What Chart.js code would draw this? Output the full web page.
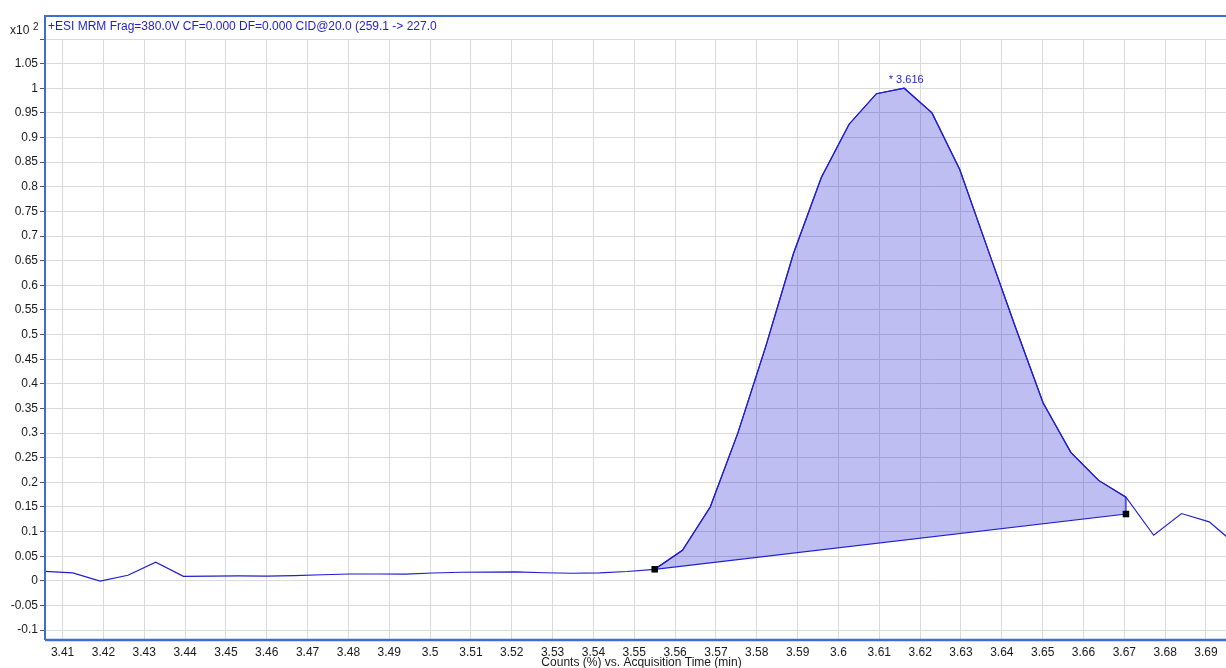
<!DOCTYPE html>
<html lang="en">
<head>
<meta charset="UTF-8" />
<title>MRM chromatogram</title>
<script src="https://cdn.jsdelivr.net/npm/chart.js"></script>
<style>
  body { margin: 0; background: #fff; }
  canvas { display: block; }
</style>
</head>
<body>
<canvas id="chrom" width="1226" height="668"></canvas>
<script>
// acquisition time (min) and counts (x10^2)
const times = [
  3.4057, 3.4125, 3.4192, 3.4260, 3.4328, 3.4396, 3.4464, 3.4532, 3.4600, 3.4668,
  3.4736, 3.4803, 3.4871, 3.4939, 3.5007, 3.5075, 3.5143, 3.5211, 3.5279, 3.5347,
  3.5415, 3.5482, 3.5550, 3.5618, 3.5686, 3.5754, 3.5822, 3.5890, 3.5958, 3.6026,
  3.6093, 3.6161, 3.6229, 3.6297, 3.6365, 3.6433, 3.6501, 3.6569, 3.6637, 3.6704,
  3.6772, 3.6840, 3.6908, 3.6976
];
const counts = [
  0.0195, 0.0162, -0.0003, 0.0114, 0.0378, 0.0093, 0.0095, 0.0100, 0.0098, 0.0108,
  0.0125, 0.0140, 0.0140, 0.0138, 0.0160, 0.0175, 0.0178, 0.0182, 0.0165, 0.0155,
  0.0162, 0.0190, 0.0235, 0.0620, 0.1500, 0.3010, 0.4760, 0.6650, 0.8190, 0.9270,
  0.9890, 1.0000, 0.9500, 0.8350, 0.6750, 0.5160, 0.3615, 0.2610, 0.2040, 0.1700,
  0.0926, 0.1367, 0.1198, 0.0717
];

// integrated peak: start/end sample and baseline level at the end
const peakStart = 22;
const peakEnd = 39;
const baseEndValue = 0.1357;
const apexIndex = 31;
const apexLabel = '* 3.616';

const title = '+ESI MRM Frag=380.0V CF=0.000 DF=0.000 CID@20.0 (259.1 -> 227.0';
const xTitle = 'Counts (%) vs. Acquisition Time (min)';

const FONT = 'Arial, "Liberation Sans", sans-serif';
const BLUE = '#1f1fcf';
const FRAME = '#3f6dd6';

const trace = times.map((t, i) => ({ x: t, y: counts[i] }));

// closed shape: the curve between the markers, then down and back along the baseline
const area = trace.slice(peakStart, peakEnd + 1);
area.push({ x: times[peakEnd], y: baseEndValue });
area.push({ x: times[peakStart], y: counts[peakStart] });

const markers = [
  { x: times[peakStart], y: counts[peakStart] },
  { x: times[peakEnd], y: baseEndValue }
];

function fmt(v) {
  return parseFloat(v.toFixed(2)).toString();
}

const decorations = {
  id: 'decorations',
  afterDraw(chart) {
    const { ctx, chartArea: a, scales: { x, y } } = chart;
    ctx.save();

    // frame round the plot
    ctx.strokeStyle = FRAME;
    ctx.lineWidth = 2;
    ctx.beginPath();
    ctx.moveTo(a.left, a.bottom);
    ctx.lineTo(a.left, 16);
    ctx.lineTo(chart.width, 16);
    ctx.stroke();
    ctx.lineWidth = 2.5;
    ctx.beginPath();
    ctx.moveTo(a.left, a.bottom);
    ctx.lineTo(chart.width, a.bottom);
    ctx.stroke();

    // header text
    ctx.fillStyle = BLUE;
    ctx.font = '12px ' + FONT;
    ctx.textAlign = 'left';
    ctx.textBaseline = 'middle';
    ctx.fillText(title, a.left + 3, 27);

    // apex label
    ctx.font = '11px ' + FONT;
    ctx.textAlign = 'center';
    ctx.fillText(apexLabel, x.getPixelForValue(times[apexIndex]) + 2, y.getPixelForValue(counts[apexIndex]) - 8);

    // y multiplier
    ctx.fillStyle = '#1a1a1a';
    ctx.textAlign = 'left';
    ctx.font = '12px ' + FONT;
    ctx.fillText('x10', 10, 31);
    ctx.font = '10px ' + FONT;
    ctx.fillText('2', 33, 27);

    // x axis title
    ctx.font = '12px ' + FONT;
    ctx.textAlign = 'center';
    ctx.fillText(xTitle, (a.left + a.right) / 2 + 6, 663);
    ctx.restore();
  }
};

new Chart(document.getElementById('chrom'), {
  type: 'line',
  data: {
    datasets: [
      {
        type: 'scatter',
        data: markers,
        pointStyle: 'rect',
        pointRadius: 4.6,
        backgroundColor: '#000',
        borderColor: '#000',
        borderWidth: 0
      },
      {
        data: trace,
        borderColor: BLUE,
        borderWidth: 1.2,
        pointRadius: 0,
        tension: 0,
        fill: false
      },
      {
        data: area,
        borderColor: BLUE,
        borderWidth: 1.2,
        backgroundColor: 'rgba(0, 0, 204, 0.255)',
        pointRadius: 0,
        tension: 0,
        fill: 'shape'
      }
    ]
  },
  options: {
    responsive: false,
    animation: false,
    layout: { autoPadding: false, padding: { top: 39, right: 0, left: 0, bottom: 0 } },
    plugins: {
      legend: { display: false },
      tooltip: { enabled: false }
    },
    scales: {
      x: {
        type: 'linear',
        min: 3.4057,
        max: 3.6949,
        border: { display: false },
        grid: { color: '#dadada', drawTicks: false },
        ticks: {
          stepSize: 0.01,
          includeBounds: false,
          maxRotation: 0,
          autoSkip: false,
          padding: 5,
          color: '#1a1a1a',
          font: { family: FONT, size: 12 },
          callback: v => fmt(v)
        },
        afterFit(scale) {
          scale.height = 28;
          scale.paddingLeft = 0;
          scale.paddingRight = 0;
        }
      },
      y: {
        min: -0.12,
        max: 1.1,
        border: { display: false },
        grid: { color: '#dadada', tickColor: '#555', tickLength: 5 },
        ticks: {
          stepSize: 0.05,
          includeBounds: false,
          padding: 2,
          color: '#1a1a1a',
          font: { family: FONT, size: 12 },
          callback: v => (v > 1.075 ? '' : fmt(v))
        },
        afterFit(scale) {
          scale.width = 45;
          scale.paddingTop = 0;
          scale.paddingBottom = 0;
        }
      }
    }
  },
  plugins: [decorations]
});
</script>
</body>
</html>
